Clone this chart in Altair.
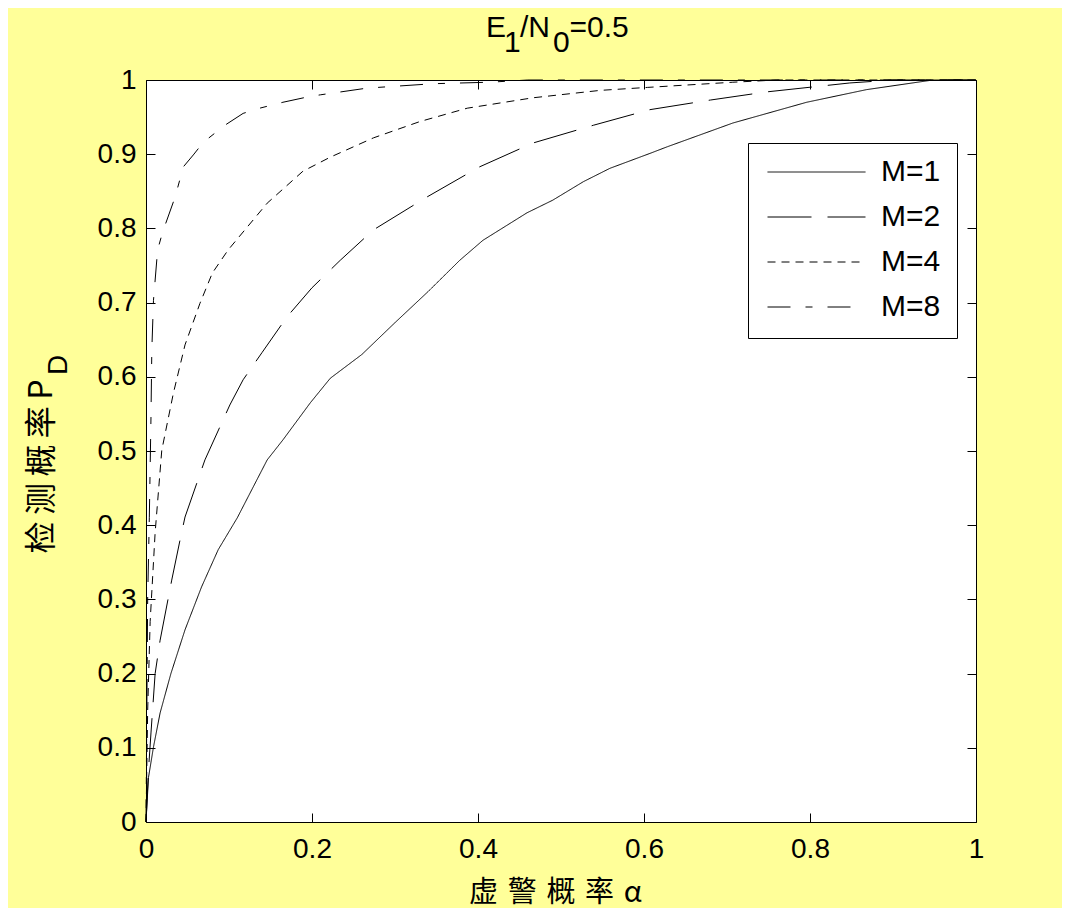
import altair as alt
import pandas as pd

# ---- data ----
series = ["M=1", "M=2", "M=4", "M=8"]

alpha_m1 = [0, 0.003, 0.009, 0.017, 0.03, 0.047, 0.067, 0.087, 0.11, 0.146, 0.165, 0.198,
            0.222, 0.26, 0.3, 0.34, 0.378, 0.406, 0.459, 0.49, 0.527, 0.559, 0.607, 0.628,
            0.707, 0.796, 0.868, 0.948, 1.0]
pd_m1 = [0, 0.06, 0.101, 0.147, 0.2, 0.259, 0.317, 0.367, 0.41, 0.488, 0.515, 0.565,
         0.598, 0.63, 0.673, 0.715, 0.757, 0.784, 0.821, 0.838, 0.863, 0.881, 0.901, 0.91,
         0.942, 0.97, 0.987, 1.0, 1.0]

alpha_m2 = [0, 0.003, 0.006, 0.011, 0.017, 0.031, 0.041, 0.047, 0.071, 0.101, 0.117, 0.14,
            0.17, 0.2, 0.234, 0.274, 0.338, 0.402, 0.466, 0.539, 0.607, 0.68, 0.748, 0.848,
            0.9, 1.0]
pd_m2 = [0, 0.07, 0.12, 0.2, 0.245, 0.326, 0.38, 0.411, 0.488, 0.562, 0.596, 0.633,
         0.681, 0.72, 0.757, 0.798, 0.842, 0.883, 0.915, 0.939, 0.96, 0.973, 0.984, 0.996,
         1.0, 1.0]

alpha_m4 = [0, 0.002, 0.005, 0.011, 0.019, 0.033, 0.047, 0.065, 0.08, 0.099, 0.146, 0.189,
            0.222, 0.274, 0.33, 0.387, 0.466, 0.547, 0.604, 0.707, 0.76, 1.0]
pd_m4 = [0, 0.15, 0.27, 0.39, 0.501, 0.578, 0.643, 0.699, 0.74, 0.771, 0.834, 0.877,
         0.896, 0.922, 0.944, 0.962, 0.976, 0.986, 0.99, 0.997, 1.0, 1.0]

alpha_m8 = [0, 0.001, 0.002, 0.004, 0.006, 0.007, 0.009, 0.014, 0.02, 0.035, 0.045, 0.057,
            0.069, 0.095, 0.117, 0.137, 0.165, 0.194, 0.21, 0.266, 0.346, 0.414, 0.46, 1.0]
pd_m8 = [0, 0.15, 0.3, 0.41, 0.546, 0.636, 0.703, 0.771, 0.795, 0.842, 0.883, 0.899,
         0.916, 0.939, 0.955, 0.962, 0.970, 0.977, 0.98, 0.989, 0.995, 0.997, 1.0, 1.0]

x_ticks = [0, 0.2, 0.4, 0.6, 0.8, 1]
y_ticks = [0, 0.1, 0.2, 0.3, 0.4, 0.5, 0.6, 0.7, 0.8, 0.9, 1]

x_title = "虚\u2004警\u2004概\u2004率\u2004α"
y_title = "检\u2009测\u2009概\u2009率\u2009P"
y_sub = "D"
title_parts = ["E", "1", "/N", "0", "=0.5"]

rows = []
for name, xs, ys in zip(series, [alpha_m1, alpha_m2, alpha_m4, alpha_m8],
                        [pd_m1, pd_m2, pd_m4, pd_m8]):
    for a, b in zip(xs, ys):
        rows.append({"alpha": a, "pd": b, "M": name})
df = pd.DataFrame(rows)

LATIN = "Liberation Sans"
CJK = "Noto Sans CJK SC"

xscale = alt.Scale(domain=[0, 1], nice=False, zero=False)
yscale = alt.Scale(domain=[0, 1], nice=False, zero=False)

lines = alt.Chart(df).mark_line(color="black", strokeWidth=1).encode(
    x=alt.X("alpha:Q", scale=xscale,
            axis=alt.Axis(orient="bottom", values=x_ticks, format="~g", offset=-9,
                          tickSize=9, domain=False, grid=False, labelFontSize=28,
                          labelFlush=False, labelPadding=13, labelFont=LATIN,
                          title=x_title, titleFont=CJK, titleFontSize=29,
                          titleFontWeight="normal", titleX=409, titleY=88,
                          titleAlign="center", titleBaseline="alphabetic")),
    y=alt.Y("pd:Q", scale=yscale,
            axis=alt.Axis(orient="left", values=y_ticks, format="~g", offset=-9,
                          tickSize=9, domain=False, grid=False, labelFontSize=28,
                          labelFlush=False, labelPadding=10, labelFont=LATIN,
                          title=y_title, titleFont=CJK, titleFontSize=32,
                          titleFontWeight="normal", titleX=-104, titleY=386,
                          titleAngle=270, titleAlign="center",
                          titleBaseline="alphabetic")),
    strokeDash=alt.StrokeDash(
        "M:N",
        scale=alt.Scale(domain=series, range=[[1, 0], [44, 16], [8, 6], [23, 15, 7, 15]]),
        legend=alt.Legend(title=None, orient="none", legendX=602, legendY=63,
                          direction="vertical", symbolType="stroke", symbolSize=9604,
                          symbolStrokeWidth=1, symbolStrokeColor="black", symbolOffset=3,
                          labelOffset=15, labelFontSize=30, labelFont=LATIN,
                          labelColor="black", padding=16, rowPadding=15, clipHeight=26,
                          strokeColor="black", fillColor="white", cornerRadius=0)),
)

frame = alt.Chart(df).mark_line(strokeOpacity=0).encode(
    x=alt.X("alpha:Q", scale=xscale,
            axis=alt.Axis(orient="top", values=x_ticks, labels=False, offset=-9,
                          tickSize=9, domain=False, grid=False, title=None)),
    y=alt.Y("pd:Q", scale=yscale,
            axis=alt.Axis(orient="right", values=y_ticks, labels=False, offset=-9,
                          tickSize=9, domain=False, grid=False, title=None)),
)


def label(text, x, y, size=30, angle=0, align="left"):
    return alt.Chart(alt.Data(values=[{}])).mark_text(
        text=text, font=LATIN, fontSize=size, align=align, baseline="alphabetic",
        color="black", angle=angle
    ).encode(x=alt.value(x), y=alt.value(y))


title_layers = [
    label(title_parts[0], 340, -43),
    label(title_parts[1], 358, -28),
    label(title_parts[2], 374, -43),
    label(title_parts[3], 407, -28),
    label(title_parts[4], 423.5, -43),
    label(y_sub, -79, 285, size=28, angle=270, align="center"),
]

chart = alt.layer(lines, frame, *title_layers).properties(
    width=830, height=742,
    autosize=alt.AutoSizeParams(type="none"),
    padding={"left": 138, "top": 72, "right": 86, "bottom": 86},
    background="#FFFF99",
).configure_view(
    stroke="black", strokeWidth=1, fill="white"
).configure_axis(
    labelColor="black", tickColor="black", titleColor="black", tickWidth=1
)

chart.save("out.html", embed_options={"renderer": "svg", "actions": False})
